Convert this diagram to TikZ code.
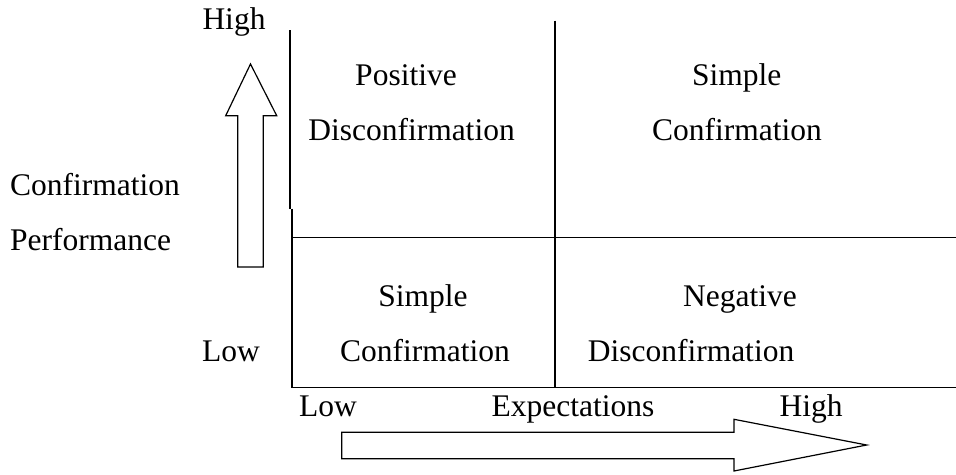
\documentclass[tikz,border=0pt]{standalone}
\usepackage{fontspec}
\setmainfont{Liberation Serif}
\begin{document}
\begin{tikzpicture}[x=1pt,y=-1pt,
  lbl/.style={anchor=base,inner sep=0pt,font=\fontsize{31.5}{37}\selectfont},
  lbll/.style={anchor=base west,inner sep=0pt,font=\fontsize{31.5}{37}\selectfont},
  axisline/.style={line width=1.2pt,line cap=butt},
  bigarrow/.style={line width=1.2pt,line join=miter,fill=white}]
\useasboundingbox (0,0) rectangle (956,474);
% grid lines
\draw[axisline] (290,30) -- (290,208.5);
\draw[axisline] (292,208.5) -- (292,387.5) -- (956,387.5);
\draw[axisline] (555,20.5) -- (555,387.5);
\draw[axisline] (292,237.5) -- (956,237.5);
% up arrow
\draw[bigarrow] (237.7,267) -- (237.7,115.7) -- (225.7,115.7) -- (250.5,64)
  -- (276.7,115.7) -- (263.3,115.7) -- (263.3,267) -- cycle;
% right arrow
\draw[bigarrow] (341.7,432.3) -- (734,432.3) -- (734,419.3) -- (866.7,445)
  -- (734,471) -- (734,458.7) -- (341.7,458.7) -- cycle;
% labels
\node[lbl] (yhigh) at (234,29) {High};
\node[lbl] (ylow) at (231,361) {Low};
\node[lbll] (yconf) at (10,195) {Confirmation};
\node[lbll] (yperf) at (10,250.7) {Performance};
\node[lbl] (q1a) at (406,85) {Positive};
\node[lbl] (q1b) at (411.5,140) {Disconfirmation};
\node[lbl] (q2a) at (736.7,85) {Simple};
\node[lbl] (q2b) at (737,140) {Confirmation};
\node[lbl] (q3a) at (423,306.7) {Simple};
\node[lbl] (q3b) at (425,361.7) {Confirmation};
\node[lbl] (q4a) at (740,306.7) {Negative};
\node[lbl] (q4b) at (691,361.7) {Disconfirmation};
\node[lbl] (xlow) at (328,416) {Low};
\node[lbl] (xexp) at (573,416) {Expectations};
\node[lbl] (xhigh) at (811,416) {High};
\end{tikzpicture}
\end{document}
